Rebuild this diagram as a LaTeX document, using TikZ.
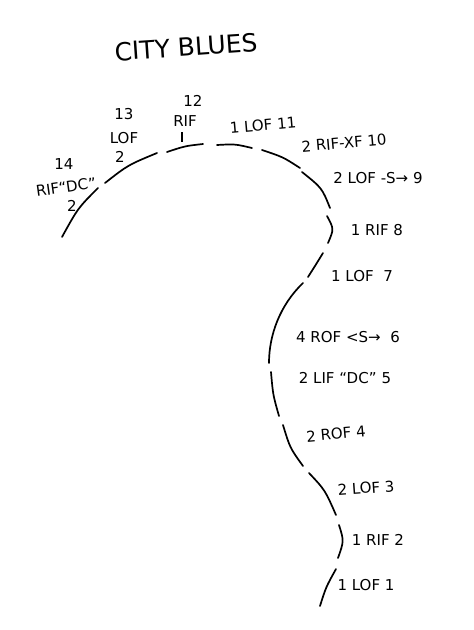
\documentclass[tikz,border=0pt]{standalone}
\usepackage{fontspec}
\setmainfont{DejaVu Sans}
\tikzset{
  seg/.style={line width=1.7pt, line cap=round, black},
  lbl/.style={font=\fontsize{15}{16}\selectfont, inner sep=0pt, text=black},
  ttl/.style={font=\fontsize{25}{27}\selectfont, inner sep=0pt, text=black}
}
\begin{document}
\begin{tikzpicture}[x=1pt,y=-1pt]
\useasboundingbox[fill=white] (0,0) rectangle (474,630);
% title
\node[ttl, rotate=4] (title) at (186,47) {CITY BLUES};
% segments of the curve
\draw[seg] (320,606) .. controls (326,587) .. (336,569);
\draw[seg] (339,525) .. controls (344,541) .. (338,558);
\draw[seg] (309,473) .. controls (325,490) .. (336,515);
\draw[seg] (283,425) .. controls (290,448) .. (303,466);
\draw[seg] (271,372) .. controls (273,395) .. (279,416);
\draw[seg] (303,283) .. controls (280,305) and (269,335) .. (269,363);
\draw[seg] (308,277) .. controls (315,266) .. (323,253);
\draw[seg] (327,216) .. controls (334,229) .. (328,243);
\draw[seg] (302,172) .. controls (322,188) .. (330,208);
\draw[seg] (262,150) .. controls (283,157) .. (300,168);
\draw[seg] (217,145) .. controls (235,144) .. (252,148);
\draw[seg] (167,152) .. controls (185,146) .. (203,144);
\draw[seg] (105,183) .. controls (128,165) .. (157,153);
\draw[seg] (62,237) .. controls (78,208) .. (98,188);
% labels
\node[lbl] (l1) at (366,585) {1 LOF 1};
\node[lbl] (l2) at (378,540) {1 RIF 2};
\node[lbl, rotate=4] (l3) at (366,488) {2 LOF 3};
\node[lbl, rotate=5] (l4) at (336,434) {2 ROF 4};
\node[lbl] (l5) at (345,378) {2 LIF ``DC'' 5};
\node[lbl] (l6) at (348,337) {4 ROF <S→\ \ 6};
\node[lbl] (l7) at (362,276) {1 LOF \ 7};
\node[lbl] (l8) at (377,230) {1 RIF 8};
\node[lbl] (l9) at (378,178) {2 LOF -S→ 9};
\node[lbl, rotate=5] (l10) at (344,143) {2 RIF-XF 10};
\node[lbl, rotate=5] (l11) at (263,125) {1 LOF 11};
\node[lbl] (l12a) at (193,101) {12};
\node[lbl] (l12b) at (185,121) {RIF};
\coordinate (t12a) at (182,132);
\coordinate (t12b) at (182,142);
\draw[line width=1.3pt] (t12a) -- (t12b);
\node[lbl] (l13a) at (124,114) {13};
\node[lbl] (l13b) at (124,138) {LOF};
\node[lbl] (l13c) at (120,157) {2};
\node[lbl] (l14a) at (64,164) {14};
\node[lbl, rotate=8] (l14b) at (66,187) {RIF``DC''};
\node[lbl] (l14c) at (72,206) {2};
\end{tikzpicture}
\end{document}
